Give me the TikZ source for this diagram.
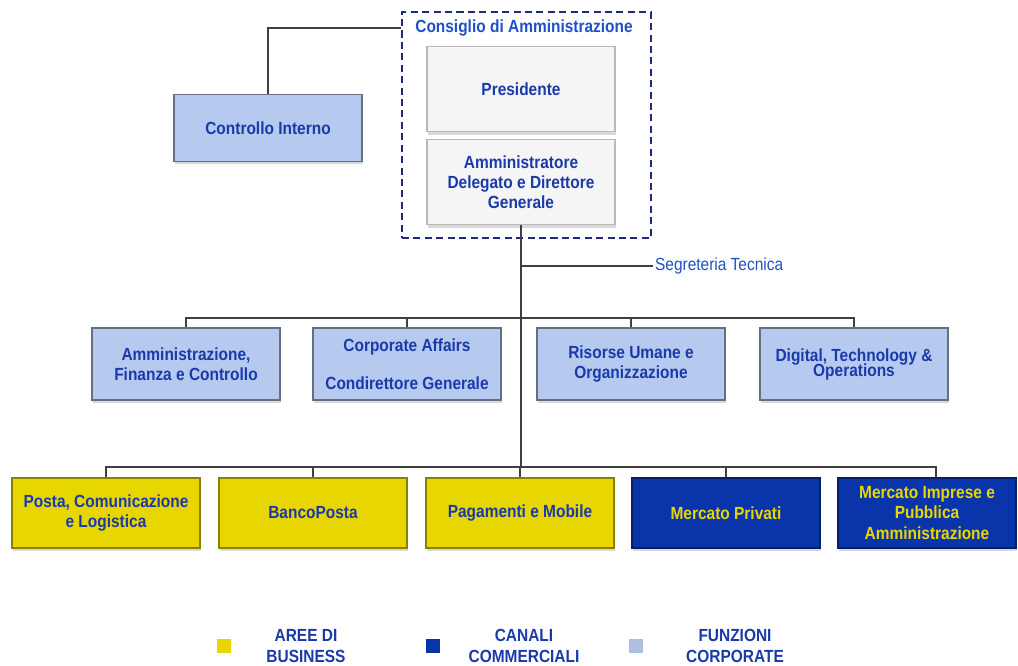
\documentclass[tikz,border=0pt]{standalone}
\usepackage{fontspec}
\setmainfont{Liberation Sans}[FakeStretch=0.88]
\usepackage{tikz}
\usetikzlibrary{positioning,shadows}
\definecolor{txtblue}{RGB}{26,58,170}
\definecolor{titblue}{RGB}{30,80,200}
\definecolor{lightblue}{RGB}{182,202,240}
\definecolor{ptyellow}{RGB}{232,214,0}
\definecolor{ptblue}{RGB}{10,52,170}
\definecolor{dashblue}{RGB}{30,40,130}
\definecolor{linegray}{RGB}{64,64,64}

\begin{document}
\begin{tikzpicture}[
    x=0.02cm, y=-0.02cm,
    font=\bfseries\fontsize{10}{11.5}\selectfont,
    box/.style={
        rectangle,
        line width=0.7pt,
        text=txtblue,
        align=center,
        minimum width=3.76cm,
        minimum height=1.4cm,
        inner sep=1pt,
        drop shadow={opacity=0.3, shadow xshift=0.6pt, shadow yshift=-1.6pt}
    },
    funz/.style={box, fill=lightblue, draw=lightblue!55!black},
    area/.style={box, fill=ptyellow, draw=ptyellow!60!black},
    canale/.style={box, fill=ptblue, draw=ptblue!60!black, text=ptyellow},
    vertice/.style={box, fill=gray!8, draw=gray!55, minimum height=1.71cm},
    leg/.style={
        rectangle,
        minimum size=0.34cm,
        draw=white,
        line width=1.2pt,
        drop shadow={opacity=0.3, shadow xshift=0.5pt, shadow yshift=-1pt}
    },
    legtext/.style={
        text=txtblue,
        align=center,
        font=\bfseries\fontsize{10}{12}\selectfont
    },
    link/.style={draw=linegray, line width=1.1pt}
  ]
  \useasboundingbox (0,0) rectangle (1018,666);

  % vertice
  \node [draw=dashblue, dash pattern=on 4pt off 2.5pt, line width=1.2pt, minimum width=4.98cm,
         minimum height=4.52cm] (cda) at (526.5,125) {};
  \node [text=titblue] (cdatitle) at (524,28) {Consiglio di Amministrazione};
  \node [vertice] (pres) at (521,89) {Presidente};
  \node [vertice] (ad) at (521,182) {Amministratore\\Delegato e Direttore\\Generale};
  \node [funz, minimum height=1.34cm] (ctrl) at (268,128) {Controllo Interno};
  \node [text=titblue, font=\fontsize{10}{11.5}\selectfont, anchor=west, inner sep=1pt]
        (segr) at (653,266) {Segreteria Tecnica};

  % funzioni corporate
  \node [funz, minimum height=1.44cm] (afc) at (186,364) {Amministrazione,\\Finanza e Controllo};
  \node [funz, minimum height=1.44cm] (corp) at (407,364) {Corporate Affairs\\[10pt]Condirettore Generale};
  \node [funz, minimum height=1.44cm] (rumane) at (631,364) {Risorse Umane e\\Organizzazione};
  \node [funz, minimum height=1.44cm] (dto) at (854,364) {Digital, Technology \&\\[-3pt]Operations};

  % aree di business e canali
  \node [area] (posta) at (106,513) {Posta, Comunicazione\\e Logistica};
  \node [area] (banco) at (313,513) {BancoPosta};
  \node [area] (pagam) at (520,513) {Pagamenti e Mobile};
  \node [canale] (privati) at (726,513) {Mercato Privati};
  \node [canale, minimum width=3.56cm] (imprese) at (927,513) {Mercato Imprese e\\Pubblica\\Amministrazione};

  \coordinate (bus1) at (521,318);
  \coordinate (bus2) at (521,467);

  % collegamenti
  \draw [link] (ctrl.north) |- (cda.west |- cdatitle);
  \draw [link] (ad.south) -- (bus2);
  \draw [link] (ad.south |- segr.west) -- (segr.west);
  \draw [link] (afc.north) |- (bus1) -| (dto.north);
  \draw [link] (corp.north) -- (corp.north |- bus1);
  \draw [link] (rumane.north) -- (rumane.north |- bus1);
  \draw [link] (posta.north) |- (bus2) -| ([xshift=0.18cm]imprese.north);
  \draw [link] (banco.north) -- (banco.north |- bus2);
  \draw [link] (pagam.north) -- (pagam.north |- bus2);
  \draw [link] (privati.north) -- (privati.north |- bus2);

  % legenda
  \node [leg, fill=ptyellow] (legarea) at (224,646) {};
  \node [legtext] (txtarea) at (306,646) {AREE DI\\BUSINESS};
  \node [leg, fill=ptblue] (legcanale) at (433,646) {};
  \node [legtext] (txtcanale) at (524,646) {CANALI\\COMMERCIALI};
  \node [leg, fill=lightblue!85!gray] (legfunz) at (636,646) {};
  \node [legtext] (txtfunz) at (735,646) {FUNZIONI\\CORPORATE};
\end{tikzpicture}
\end{document}
